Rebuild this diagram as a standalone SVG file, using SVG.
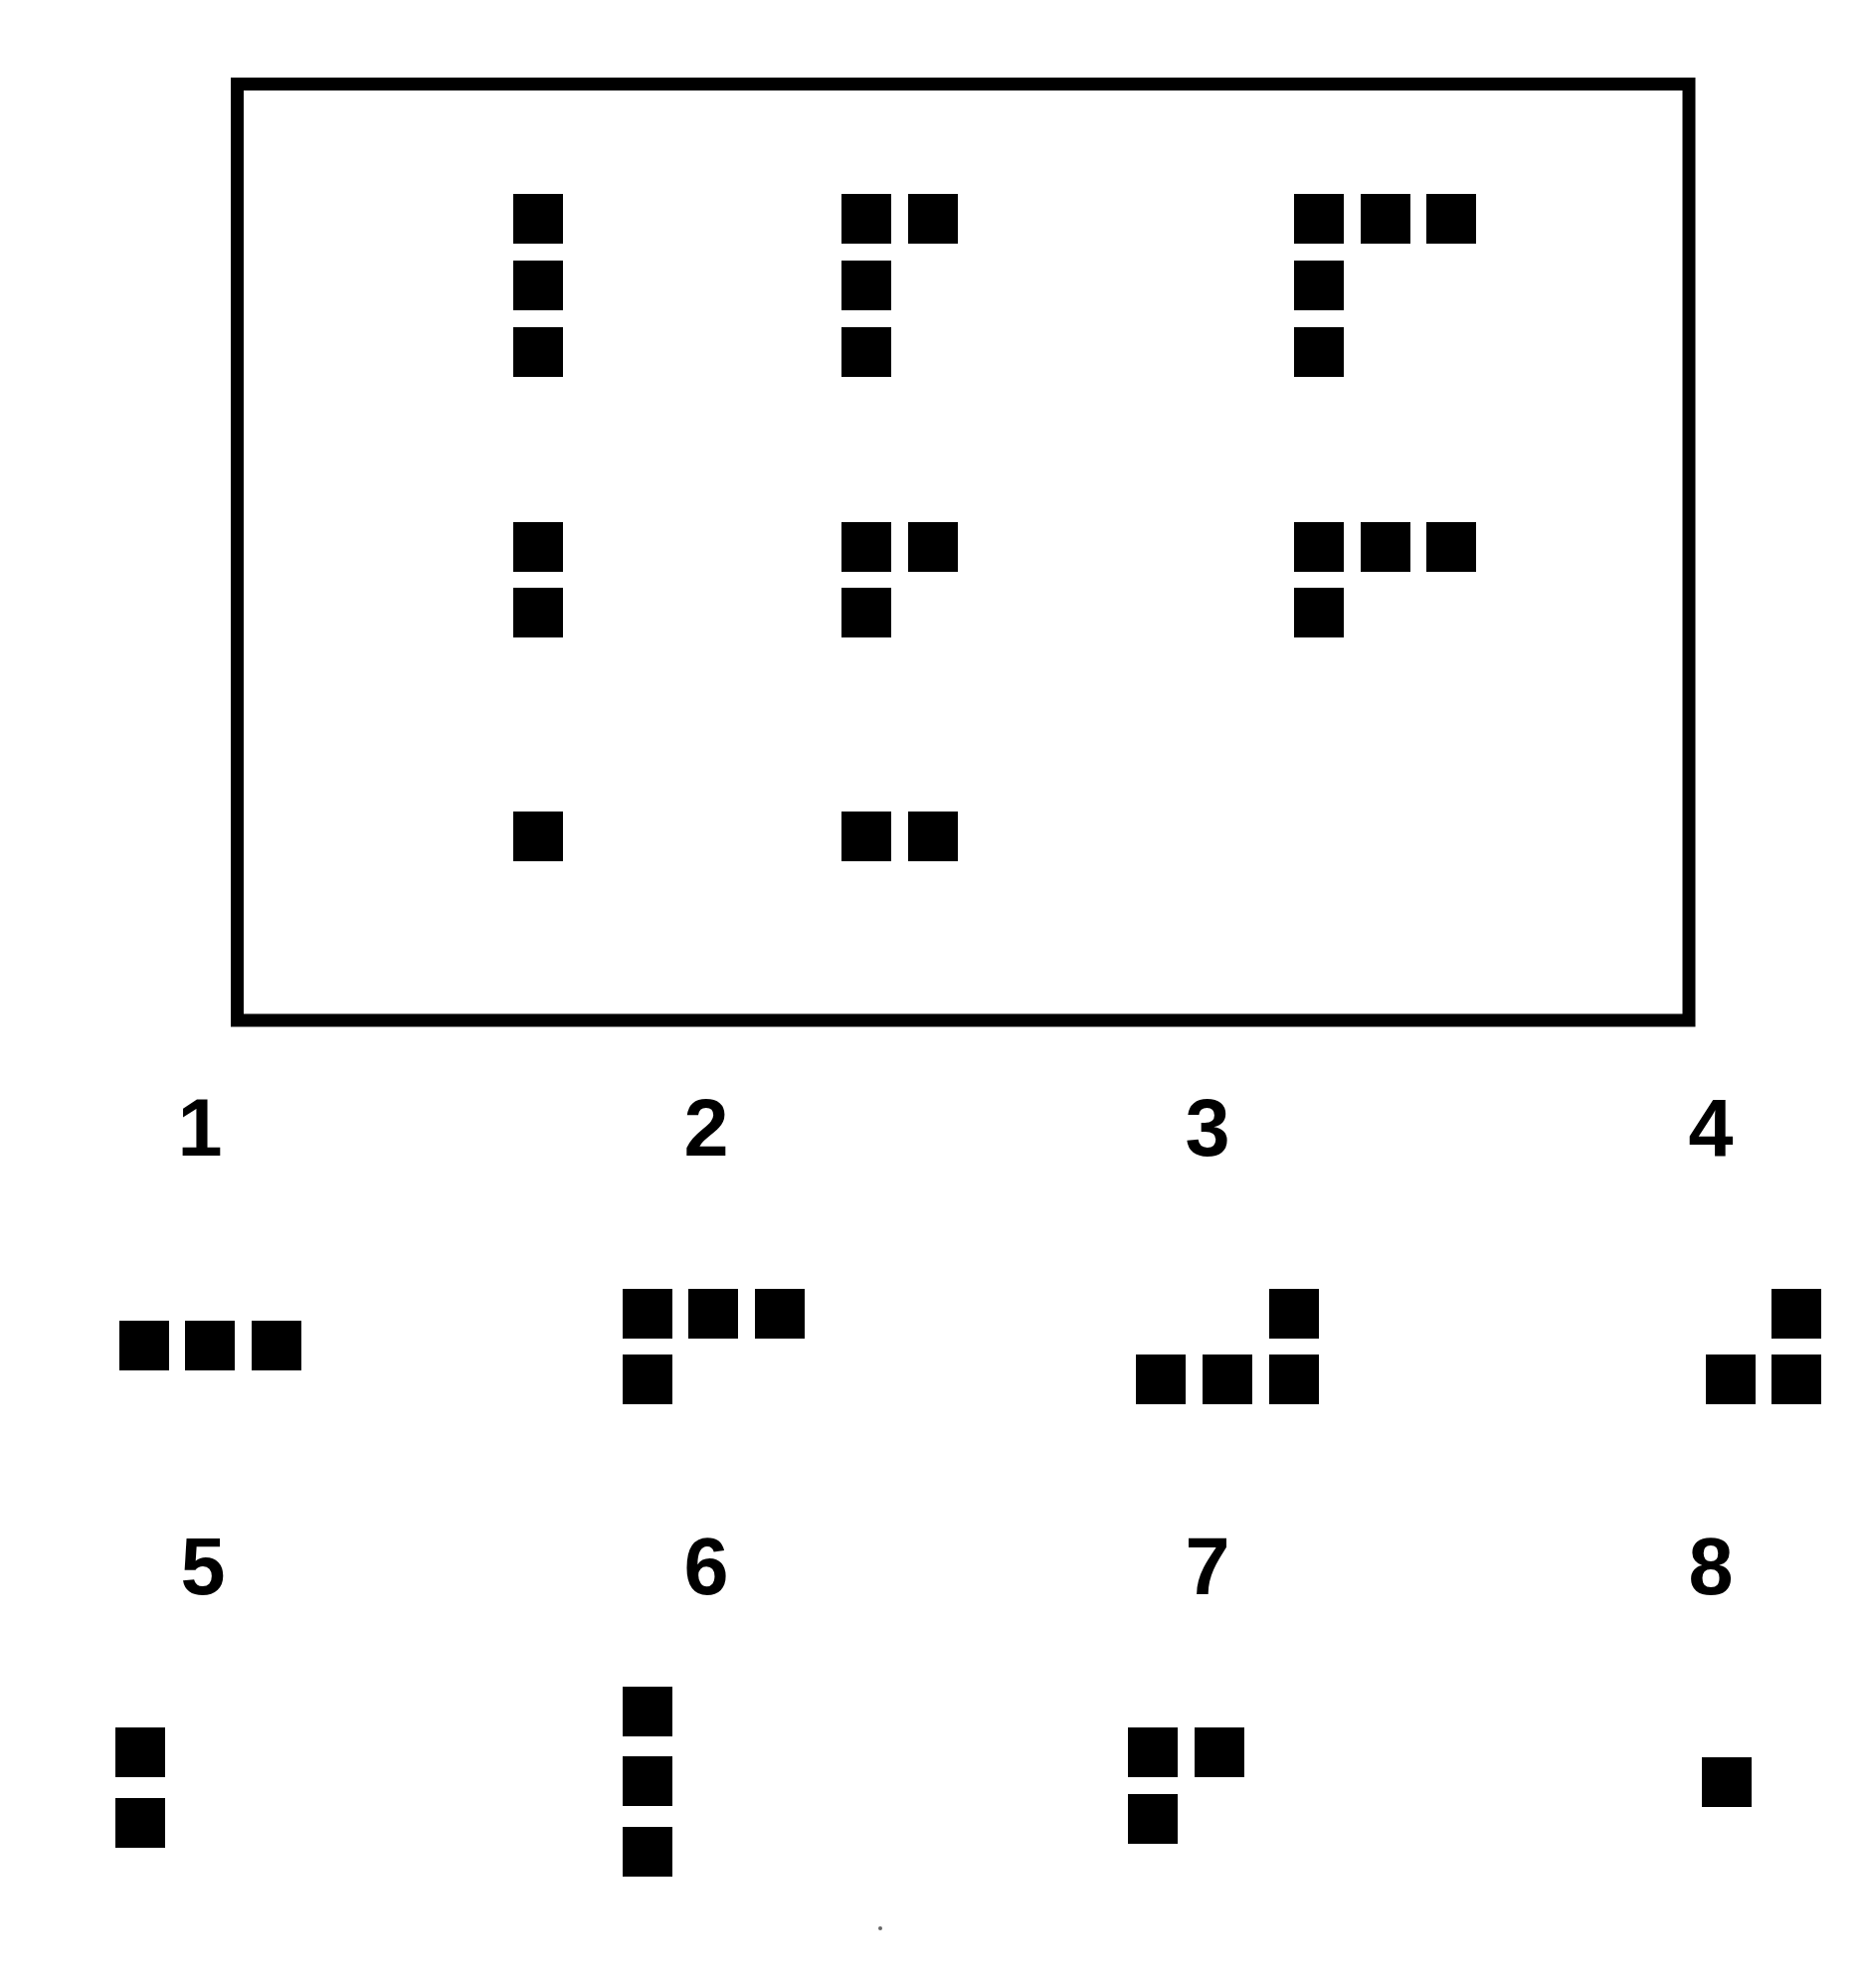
<svg xmlns="http://www.w3.org/2000/svg" width="1872" height="1999" viewBox="0 0 1872 1999">
<style>
.frame{fill:none;stroke:#000;stroke-width:13}
.sq{fill:#000}
.lbl{font-family:"Liberation Sans",Arial,sans-serif;font-weight:bold;font-size:81px;fill:#000;text-anchor:middle}
</style>
<defs>
<rect id="s" class="sq" width="50" height="50"/>
</defs>
<rect width="1872" height="1999" fill="#fff"/>
<g id="matrix">
<rect class="frame" x="238.5" y="84.5" width="1459.5" height="941.5"/>
<g id="m11"><use href="#s" x="516" y="195"/><use href="#s" x="516" y="262"/><use href="#s" x="516" y="329"/></g>
<g id="m12"><use href="#s" x="846" y="195"/><use href="#s" x="913" y="195"/><use href="#s" x="846" y="262"/><use href="#s" x="846" y="329"/></g>
<g id="m13"><use href="#s" x="1301" y="195"/><use href="#s" x="1368" y="195"/><use href="#s" x="1434" y="195"/><use href="#s" x="1301" y="262"/><use href="#s" x="1301" y="329"/></g>
<g id="m21"><use href="#s" x="516" y="525"/><use href="#s" x="516" y="591"/></g>
<g id="m22"><use href="#s" x="846" y="525"/><use href="#s" x="913" y="525"/><use href="#s" x="846" y="591"/></g>
<g id="m23"><use href="#s" x="1301" y="525"/><use href="#s" x="1368" y="525"/><use href="#s" x="1434" y="525"/><use href="#s" x="1301" y="591"/></g>
<g id="m31"><use href="#s" x="516" y="816"/></g>
<g id="m32"><use href="#s" x="846" y="816"/><use href="#s" x="913" y="816"/></g>
</g>
<g id="connectors"/>
<g id="opt1"><text class="lbl" x="201" y="1162">1</text><use href="#s" x="120" y="1328"/><use href="#s" x="186" y="1328"/><use href="#s" x="253" y="1328"/></g>
<g id="opt2"><text class="lbl" x="710" y="1162">2</text><use href="#s" x="626" y="1296"/><use href="#s" x="692" y="1296"/><use href="#s" x="759" y="1296"/><use href="#s" x="626" y="1362"/></g>
<g id="opt3"><text class="lbl" x="1214" y="1162">3</text><use href="#s" x="1276" y="1296"/><use href="#s" x="1142" y="1362"/><use href="#s" x="1209" y="1362"/><use href="#s" x="1276" y="1362"/></g>
<g id="opt4"><text class="lbl" x="1720" y="1162">4</text><use href="#s" x="1781" y="1296"/><use href="#s" x="1715" y="1362"/><use href="#s" x="1781" y="1362"/></g>
<g id="opt5"><text class="lbl" x="204" y="1603">5</text><use href="#s" x="116" y="1737"/><use href="#s" x="116" y="1808"/></g>
<g id="opt6"><text class="lbl" x="710" y="1603">6</text><use href="#s" x="626" y="1696"/><use href="#s" x="626" y="1766"/><use href="#s" x="626" y="1837"/></g>
<g id="opt7"><text class="lbl" x="1214" y="1603">7</text><use href="#s" x="1134" y="1737"/><use href="#s" x="1201" y="1737"/><use href="#s" x="1134" y="1804"/></g>
<g id="opt8"><text class="lbl" x="1720" y="1603">8</text><use href="#s" x="1711" y="1767"/></g>
<circle cx="885" cy="1939" r="2" fill="#666"/>
</svg>
